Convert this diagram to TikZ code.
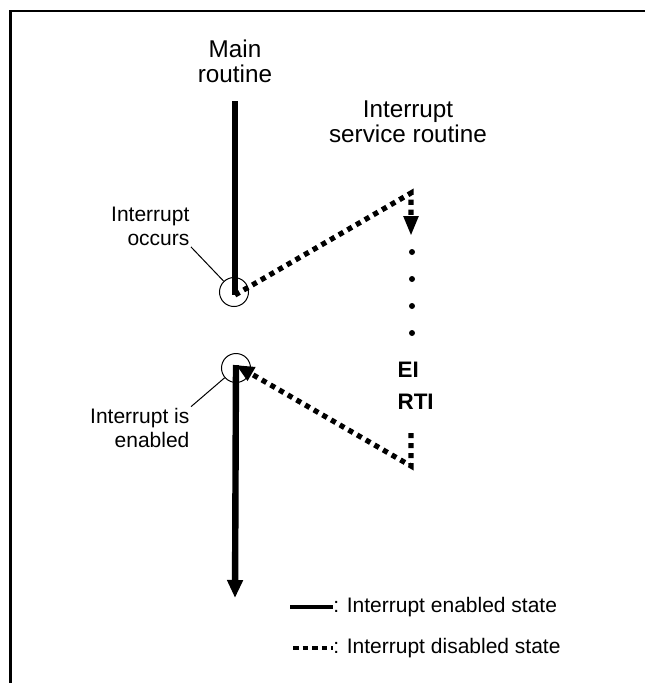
\documentclass[tikz,border=0pt]{standalone}
\usepackage{fontspec}
\setmainfont{Liberation Sans}
\usepackage{tikz}
\usetikzlibrary{arrows.meta,positioning}

\begin{document}
\begin{tikzpicture}[x=0.75pt,y=-0.75pt,
  every node/.style={font=\fontsize{15.75}{18}\selectfont}
]

\tikzstyle{ring}=[draw,circle,minimum size=21.75pt,inner sep=0pt,line width=0.75pt]
\tikzstyle{note}=[align=center,inner sep=1pt]
\tikzstyle{title}=[align=center,inner sep=1pt,font=\fontsize{18.2}{18.8}\selectfont]
\tikzstyle{cmd}=[anchor=west,inner sep=1pt,font=\fontsize{16.8}{18}\selectfont\bfseries]
\tikzstyle{dotnode}=[fill,circle,minimum size=4.5pt,inner sep=0pt]
\tikzset{enabled/.style={line width=4.8pt},
  disabled/.style={line width=3.9pt,dash pattern=on 3.9pt off 3.6pt},
  bighead/.style={-{Triangle[length=13.5pt,width=11.25pt]}}}

\useasboundingbox (0,0) rectangle (645,683);
\draw[line width=1.9pt] (10.5,683) -- (10.5,11) -- (645,11);

\node[title] (mainlbl) at (235,61) {Main\\routine};
\node[title] (isrlbl)  at (408,122) {Interrupt\\service routine};
\node[note,align=right,anchor=east] (occlbl) at (191,226) {Interrupt\\occurs};
\node[note,align=right,anchor=east] (enlbl)  at (191,428) {Interrupt is\\enabled};
\node[cmd] (ei)  at (396,369.5) {EI};
\node[cmd] (rti) at (396,402) {RTI};

\coordinate (mtop) at (235,101);
\coordinate (mint) at (235,295);
\coordinate (mres) at (236,365);
\coordinate (mend) at (235,598);
\coordinate (isrtop) at (411,193);
\coordinate (israrr) at (411,236);
\coordinate (isrret) at (411,433);
\coordinate (isrend) at (411,466);

\node[ring] (c1) at (234,292) {};
\node[ring] (c2) at (236,368) {};

\foreach \y/\n in {252/1,279/2,306/3,333/4}
  \node[dotnode] (d\n) at (412,\y) {};

\draw[enabled,line cap=butt] (mtop) -- (mint);
\draw[enabled,bighead] (mres) -- (mend);

\draw[disabled,-{Triangle[length=15pt,width=10.5pt]}]
  (mint) -- (isrtop) -- (israrr);
\draw[disabled,-{Triangle[length=13.5pt,width=11pt]}]
  (isrret) -- (isrend) -- (mres);

\draw[line width=0.75pt] (occlbl.south east) -- (c1);
\draw[line width=0.75pt] (enlbl.north east) -- (c2);

% legend
\node[note,anchor=west,inner sep=0pt] (leg1) at (333,607) {: Interrupt enabled state};
\node[note,anchor=west,inner sep=0pt] (leg2) at (333,648) {: Interrupt disabled state};
\coordinate (leg1a) at (290,607);
\coordinate (leg2a) at (293,648);
\draw[line width=3pt] (leg1a) -- (leg1.west);
\draw[line width=3pt,dash pattern=on 4.2pt off 3pt] (leg2a) -- (leg2.west);

\end{tikzpicture}
\end{document}
